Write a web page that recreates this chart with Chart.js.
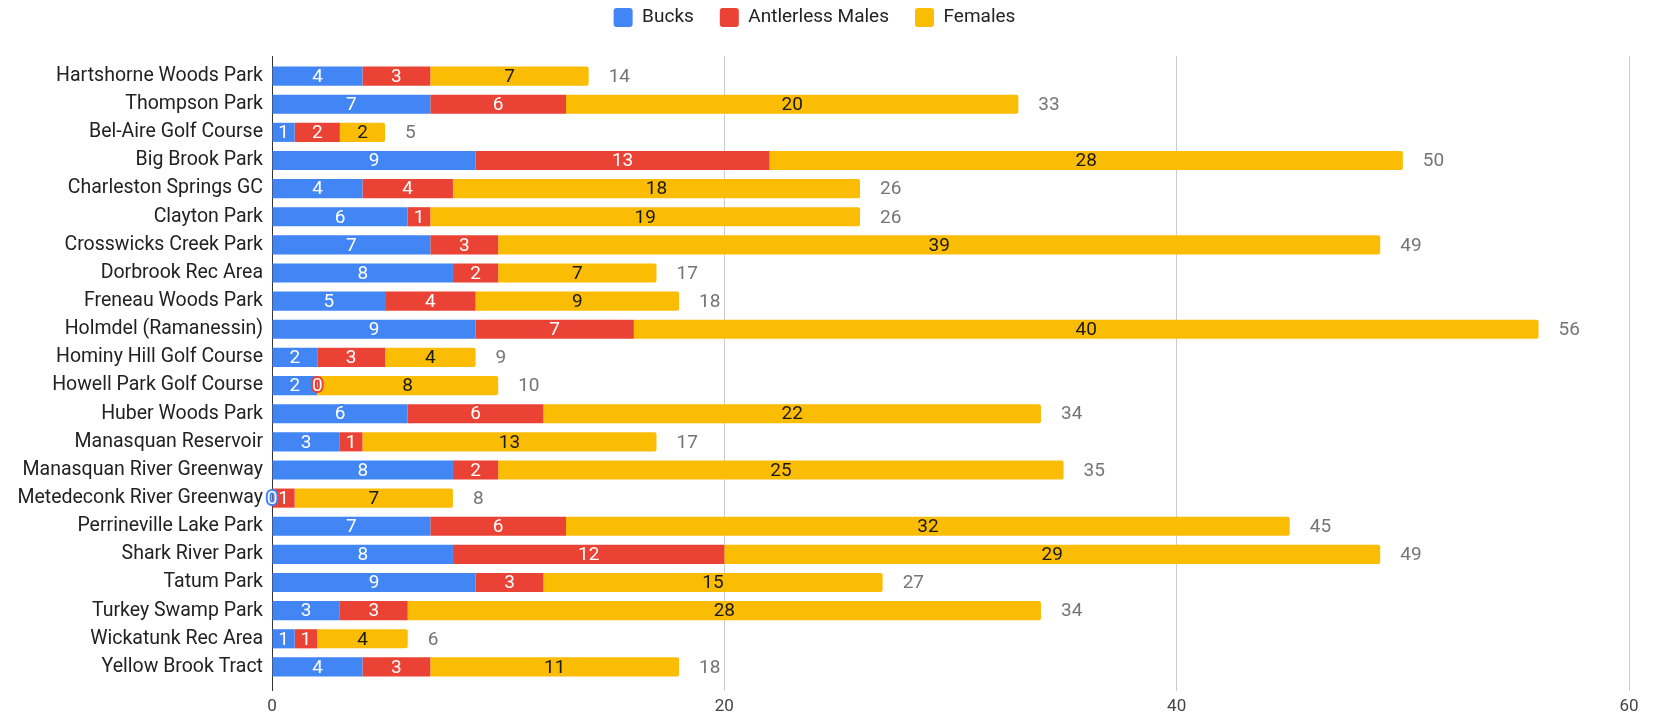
<!DOCTYPE html>
<html>
<head>
<meta charset="utf-8">
<script src="https://cdn.jsdelivr.net/npm/chart.js@4.4.1/dist/chart.umd.min.js"></script>
<style>
  html, body { margin: 0; padding: 0; background: #fff; }
  #wrap { width: 1655px; height: 717px; }
</style>
</head>
<body>
<div id="wrap"><canvas id="chart" width="1655" height="717"></canvas></div>
<script>
const parks = [
  'Hartshorne Woods Park', 'Thompson Park', 'Bel-Aire Golf Course', 'Big Brook Park',
  'Charleston Springs GC', 'Clayton Park', 'Crosswicks Creek Park', 'Dorbrook Rec Area',
  'Freneau Woods Park', 'Holmdel (Ramanessin)', 'Hominy Hill Golf Course', 'Howell Park Golf Course',
  'Huber Woods Park', 'Manasquan Reservoir', 'Manasquan River Greenway', 'Metedeconk River Greenway',
  'Perrineville Lake Park', 'Shark River Park', 'Tatum Park', 'Turkey Swamp Park',
  'Wickatunk Rec Area', 'Yellow Brook Tract'
];
const bucks =           [4, 7, 1, 9, 4, 6, 7, 8, 5, 9, 2, 2, 6, 3, 8, 0, 7, 8, 9, 3, 1, 4];
const antlerlessMales = [3, 6, 2, 13, 4, 1, 3, 2, 4, 7, 3, 0, 6, 1, 2, 1, 6, 12, 3, 3, 1, 3];
const females =         [7, 20, 2, 28, 18, 19, 39, 7, 9, 40, 4, 8, 22, 13, 25, 7, 32, 29, 15, 28, 4, 11];
const xTicks = [0, 20, 40, 60];

const FONT = 'Roboto, "Liberation Sans", Arial, sans-serif';

// draws the value inside each segment and the total after each bar
const barLabels = {
  id: 'barLabels',
  afterDatasetsDraw(chart) {
    const ctx = chart.ctx;
    ctx.save();
    ctx.font = '19px ' + FONT;
    ctx.textAlign = 'center';
    ctx.textBaseline = 'middle';
    ctx.lineJoin = 'round';
    chart.data.datasets.forEach((ds, di) => {
      const meta = chart.getDatasetMeta(di);
      meta.data.forEach((bar, i) => {
        const v = ds.data[i];
        const x = (bar.x + bar.base) / 2;
        ctx.lineWidth = 4;
        ctx.strokeStyle = ds.backgroundColor;
        ctx.strokeText(String(v), x, bar.y + 1);
        ctx.fillStyle = di === 2 ? '#1a1a1a' : '#ffffff';
        ctx.fillText(String(v), x, bar.y + 1);
      });
    });
    const last = chart.getDatasetMeta(2).data;
    ctx.fillStyle = '#757575';
    ctx.textAlign = 'left';
    last.forEach((bar, i) => {
      const total = bucks[i] + antlerlessMales[i] + females[i];
      ctx.fillText(String(total), bar.x + 20, bar.y + 1);
    });
    ctx.restore();
  }
};

const gridColor = ctx => ctx.tick && ctx.tick.value === 0 ? '#333333' : '#cccccc';

new Chart(document.getElementById('chart'), {
  type: 'bar',
  data: {
    labels: parks,
    datasets: [
      { label: 'Bucks', data: bucks, backgroundColor: '#4285F4' },
      { label: 'Antlerless Males', data: antlerlessMales, backgroundColor: '#EA4335' },
      { label: 'Females', data: females, backgroundColor: '#FBBC04', borderRadius: 2, borderSkipped: 'start' }
    ]
  },
  options: {
    indexAxis: 'y',
    responsive: false,
    animation: false,
    categoryPercentage: 1,
    barPercentage: 0.68,
    layout: { padding: { top: -18, right: 26, left: 0, bottom: 0 } },
    plugins: {
      tooltip: { enabled: false },
      // empty title used only as a gap between legend and plot
      title: {
        display: true,
        text: '',
        weight: 500,
        font: { size: 10, lineHeight: 1 },
        padding: { top: 6, bottom: 3 }
      },
      legend: {
        position: 'top',
        labels: {
          font: { family: FONT, size: 19 },
          color: '#222',
          boxWidth: 19,
          boxHeight: 19,
          useBorderRadius: true,
          borderRadius: 3,
          padding: 26
        }
      }
    },
    scales: {
      x: {
        stacked: true,
        min: 0,
        max: 60,
        afterBuildTicks(axis) { axis.ticks = xTicks.map(v => ({ value: v })); },
        grid: { color: gridColor, lineWidth: 1, drawTicks: true, tickLength: 10 },
        border: { display: false },
        ticks: { font: { family: FONT, size: 17 }, color: '#444', padding: 6 },
        afterFit(axis) { axis.height = 36; }
      },
      // top twin axis only extends the grid lines a little above the bars
      x2: {
        position: 'top',
        min: 0,
        max: 60,
        afterBuildTicks(axis) { axis.ticks = xTicks.map(v => ({ value: v })); },
        grid: { color: gridColor, lineWidth: 1, drawOnChartArea: false, drawTicks: true, tickLength: 6 },
        border: { display: false },
        ticks: { display: false }
      },
      y: {
        stacked: true,
        grid: { display: false, drawTicks: false },
        border: { display: false },
        ticks: { font: { family: FONT, size: 19.5 }, color: '#222', padding: 9, autoSkip: false },
        afterFit(axis) { axis.width = 272; }
      }
    }
  },
  plugins: [barLabels]
});
</script>
</body>
</html>
